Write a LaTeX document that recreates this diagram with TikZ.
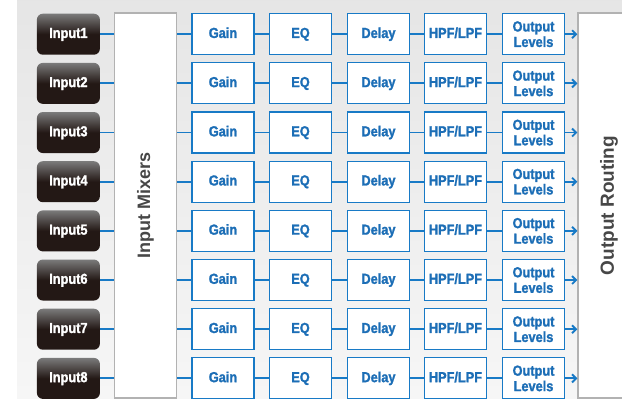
\documentclass[tikz,border=0pt]{standalone}
\usepackage{fontspec}
\usepackage{graphicx}
\usetikzlibrary{arrows.meta}
\newfontfamily\boxfont{Liberation Sans}[FakeStretch=0.88, BoldFeatures={FakeBold=1.5}]
\newfontfamily\panelfont{Liberation Sans}
\definecolor{lineblue}{RGB}{24,122,198}
\definecolor{textblue}{RGB}{28,110,182}
\definecolor{inkdark}{RGB}{35,24,21}
\tikzset{
	oneline/.style={text height=10.5pt, text depth=3pt},
	inbox/.style={oneline, rounded corners=6pt, top color=black!52, bottom color=inkdark, middle color=inkdark,
		minimum width=63pt, minimum height=41pt, inner sep=0pt, text=white,
		font=\boxfont\bfseries\fontsize{14.5}{15}\selectfont},
	procbox/.style={draw=lineblue, line width=1.2pt, fill=white, minimum width=62pt, minimum height=41pt,
		inner sep=0pt, align=center, text=textblue,
		font=\boxfont\bfseries\fontsize{14.5}{15.5}\selectfont},
	bigbox/.style={draw=gray!60, line width=1.2pt, fill=white, minimum width=62pt, minimum height=385pt,
		inner sep=0pt, text=black!72, font=\panelfont\bfseries\fontsize{18}{18}\selectfont},
	wire/.style={draw=lineblue, line width=1.9pt}
}
\begin{document}
\begin{tikzpicture}[x=1pt,y=-1pt]

		\useasboundingbox (0,0) rectangle (622,399);
		\clip (0,0) rectangle (622,399);
		\shade[top color=gray!20, bottom color=gray!7] (17,0) rectangle (622,399);

		\node[bigbox] (mix) at (145.5,205.5) {\rotatebox{90}{Input Mixers}};
		\node[bigbox, font=\panelfont\bfseries\fontsize{19}{19}\selectfont] (rout) at (609,205.5) {\rotatebox{90}{Output Routing}};

		\foreach \i in {1,...,8} {
			\pgfmathsetmacro\ry{34.2+(\i-1)*49.17}
			\node[inbox] (in\i) at (68.4,\ry) {Input\i};
			\node[procbox, oneline] (gain\i) at (223,\ry) {Gain};
			\node[procbox, oneline] (eq\i) at (300.5,\ry) {EQ};
			\node[procbox, oneline] (dly\i) at (378.5,\ry) {Delay};
			\node[procbox, oneline] (flt\i) at (455.5,\ry) {HPF/LPF};
			\node[procbox] (lvl\i) at (533.5,\ry) {Output\\Levels};
		}

		\foreach \i in {1,...,8} {
			\draw[wire] (in\i) -- (in\i -| mix.west);
			\draw[wire] (gain\i -| mix.east) -- (gain\i);
			\foreach \a/\b in {gain/eq, eq/dly, dly/flt, flt/lvl}
			\draw[wire] (\a\i) -- (\b\i);
			\draw[wire, -{Straight Barb[length=4pt,width=8pt]}] (lvl\i) -- (lvl\i -| rout.west);
		}

	\end{tikzpicture}
\end{document}
